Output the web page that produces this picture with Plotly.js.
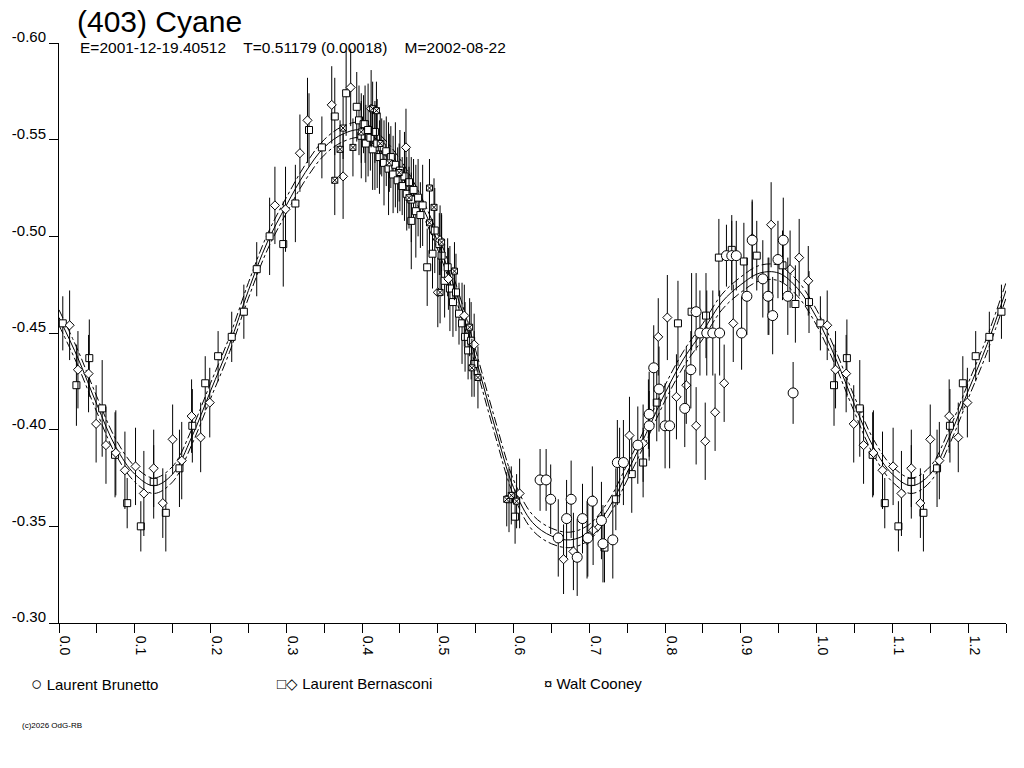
<!DOCTYPE html>
<html>
<head>
<meta charset="utf-8">
<script src="https://cdn.plot.ly/plotly-3.0.1.min.js"></script>
<style>
  html, body { margin: 0; padding: 0; background: #fff; }
  #chart { width: 1024px; height: 768px; }
</style>
</head>
<body>
<div id="chart"></div>
<script>
// phase / reduced magnitude (phase 0..1, repeated up to 1.25)
const sqPhase = [0.005,0.023,0.040,0.057,0.074,0.090,0.108,0.125,0.141,0.159,0.176,0.193,0.210,0.228,0.244,
  0.261,0.278,0.296,0.312,0.330,0.347,0.364,0.379,0.393,0.404,0.417,
  0.396,0.399,0.402,0.405,0.408,0.411,0.414,0.417,0.420,0.423,0.426,0.429,0.432,0.435,0.438,0.441,0.444,0.447,0.450,
  0.453,0.456,0.459,0.462,0.465,0.468,0.471,0.474,0.477,0.480,0.486,0.493,0.496,0.502,0.505,0.509,0.513,0.516,0.520,
  0.524,0.528,0.532,0.536,0.540,0.544,0.548,
  0.465,0.594,0.602,0.720,0.735,0.740,0.756,0.771,0.789,0.817,0.835,0.854,0.871,0.888,0.904,0.921,0.937,0.955,0.972,0.990];
const sqMag = [-0.455,-0.423,-0.437,-0.411,-0.387,-0.362,-0.350,-0.373,-0.357,-0.380,-0.402,-0.424,-0.438,-0.448,-0.461,
  -0.483,-0.500,-0.496,-0.517,-0.555,-0.546,-0.562,-0.574,-0.567,-0.558,-0.546,
  -0.560,-0.552,-0.558,-0.548,-0.555,-0.551,-0.545,-0.554,-0.548,-0.541,-0.546,-0.538,-0.544,-0.535,-0.541,-0.532,-0.537,-0.529,-0.534,
  -0.526,-0.531,-0.522,-0.528,-0.519,-0.524,-0.513,-0.520,-0.511,-0.516,-0.484,-0.491,-0.503,-0.496,-0.490,-0.477,-0.484,-0.473,-0.466,
  -0.471,-0.460,-0.455,-0.448,-0.441,-0.446,-0.434,
  -0.508,-0.364,-0.355,-0.339,-0.364,-0.383,-0.377,-0.383,-0.414,-0.455,-0.461,-0.459,-0.489,-0.493,-0.487,-0.490,-0.469,-0.485,-0.465,-0.466];
const sqErr = [0.014,0.021,0.020,0.025,0.022,0.013,0.013,0.019,0.020,0.020,0.019,0.014,0.013,0.013,0.014,
  0.014,0.020,0.022,0.020,0.019,0.016,0.020,0.022,0.018,0.020,0.022,
  0.018,0.022,0.015,0.020,0.024,0.017,0.021,0.016,0.023,0.019,0.015,0.022,0.018,0.024,0.016,0.020,0.022,0.017,0.021,
  0.015,0.023,0.019,0.018,0.022,0.016,0.024,0.020,0.017,0.021,0.020,0.018,0.022,0.016,0.021,0.019,0.015,0.022,0.018,
  0.020,0.016,0.021,0.018,0.015,0.020,0.017,
  0.025,0.017,0.014,0.018,0.016,0.018,0.020,0.018,0.020,0.022,0.020,0.022,0.020,0.018,0.020,0.018,0.020,0.018,0.020,0.016];

const dmPhase = [0.014,0.025,0.039,0.049,0.062,0.075,0.087,0.101,0.112,0.125,0.137,0.150,0.162,0.175,0.187,0.199,
  0.285,0.299,0.318,0.328,0.360,0.375,0.385,0.412,0.458,
  0.500,0.503,0.514,0.535,0.548,0.608,
  0.666,0.679,0.697,0.705,0.753,0.771,0.778,0.791,0.803,0.815,0.828,0.841,0.853,0.866,0.878,0.890,0.915,0.940,0.965,0.977,0.989];
const dmMag = [-0.454,-0.431,-0.429,-0.403,-0.392,-0.388,-0.379,-0.381,-0.367,-0.380,-0.362,-0.395,-0.384,-0.407,-0.396,-0.414,
  -0.516,-0.514,-0.543,-0.560,-0.568,-0.531,-0.577,-0.566,-0.546,
  -0.471,-0.498,-0.478,-0.459,-0.444,-0.367,
  -0.333,-0.337,-0.343,-0.348,-0.397,-0.393,-0.408,-0.448,-0.458,-0.417,-0.423,-0.402,-0.394,-0.409,-0.424,-0.455,-0.499,-0.506,-0.483,-0.489,-0.477];
const dmErr = [0.018,0.020,0.020,0.020,0.020,0.022,0.020,0.020,0.022,0.020,0.018,0.018,0.020,0.019,0.018,0.018,
  0.020,0.022,0.020,0.022,0.020,0.022,0.020,0.020,0.020,
  0.018,0.018,0.016,0.016,0.016,0.018,
  0.018,0.020,0.020,0.018,0.020,0.020,0.018,0.020,0.022,0.022,0.020,0.020,0.020,0.020,0.020,0.020,0.020,0.022,0.020,0.020,0.018];

const ciPhase = [0.635,0.643,0.649,0.659,0.670,0.676,0.684,0.691,0.698,0.704,0.716,0.718,0.731,0.737,0.745,0.764,0.779,0.779,0.785,0.792,
  0.800,0.806,0.826,0.834,0.841,0.846,0.855,0.863,0.872,0.881,0.888,0.894,0.901,0.908,0.915,0.929,0.936,0.942,0.949,0.956,0.962,0.969];
const ciMag = [-0.374,-0.374,-0.364,-0.344,-0.354,-0.364,-0.334,-0.354,-0.344,-0.363,-0.353,-0.341,-0.343,-0.383,-0.383,-0.392,-0.408,-0.402,-0.432,-0.421,
  -0.402,-0.402,-0.411,-0.431,-0.461,-0.450,-0.450,-0.450,-0.450,-0.490,-0.490,-0.490,-0.450,-0.469,-0.498,-0.478,-0.469,-0.459,-0.488,-0.498,-0.469,-0.419];
const ciErr = [0.016,0.016,0.018,0.020,0.020,0.020,0.020,0.018,0.020,0.018,0.020,0.020,0.020,0.022,0.022,0.020,0.022,0.018,0.022,0.022,
  0.022,0.022,0.020,0.020,0.020,0.022,0.022,0.022,0.022,0.016,0.018,0.018,0.019,0.020,0.020,0.020,0.020,0.020,0.020,0.022,0.020,0.016];

const coPhase = [0.364,0.371,0.375,0.388,0.399,0.414,0.419,0.424,0.436,0.449,0.462,0.489,0.495,0.489,0.505,0.522,0.503,0.542,0.545,0.553,0.591,0.597,0.604];
const coMag = [-0.529,-0.545,-0.556,-0.546,-0.554,-0.566,-0.565,-0.548,-0.538,-0.533,-0.520,-0.525,-0.515,-0.507,-0.497,-0.482,-0.471,-0.453,-0.432,-0.427,-0.364,-0.366,-0.363];
const coErr = [0.018,0.015,0.016,0.015,0.016,0.014,0.015,0.016,0.015,0.015,0.016,0.015,0.015,0.016,0.015,0.015,0.016,0.015,0.015,0.016,0.014,0.015,0.014];

// Fourier fit (solid) and its two error envelopes (dash-dot), read every 0.025 in phase
const fitPhase = [0.000,0.025,0.050,0.075,0.100,0.125,0.150,0.175,0.200,0.225,0.250,0.275,0.300,0.325,0.350,0.375,0.400,
  0.425,0.450,0.475,0.500,0.525,0.550,0.575,0.600,0.625,0.650,0.675,0.700,0.725,0.750,0.775,0.800,0.825,
  0.850,0.875,0.900,0.925,0.950,0.975,1.000,1.025,1.050,1.075,1.100,1.125,1.150,1.175,1.200,1.225,1.250];
const fitMag = [-0.458,-0.437,-0.413,-0.391,-0.377,-0.371,-0.377,-0.396,-0.420,-0.444,-0.472,-0.497,-0.516,-0.533,-0.546,-0.553,-0.555,
  -0.548,-0.536,-0.519,-0.497,-0.470,-0.437,-0.402,-0.370,-0.352,-0.345,-0.343,-0.347,-0.359,-0.378,-0.398,-0.419,-0.437,
  -0.451,-0.466,-0.475,-0.481,-0.481,-0.473,-0.458,-0.437,-0.413,-0.391,-0.377,-0.371,-0.377,-0.396,-0.420,-0.444,-0.472];
const fitHigh = [-0.462,-0.441,-0.417,-0.395,-0.381,-0.375,-0.381,-0.400,-0.424,-0.448,-0.476,-0.501,-0.520,-0.537,-0.550,-0.557,-0.559,
  -0.552,-0.540,-0.523,-0.501,-0.474,-0.441,-0.406,-0.374,-0.356,-0.349,-0.347,-0.351,-0.363,-0.382,-0.402,-0.423,-0.441,
  -0.455,-0.470,-0.479,-0.485,-0.485,-0.477,-0.462,-0.441,-0.417,-0.395,-0.381,-0.375,-0.381,-0.400,-0.424,-0.448,-0.476];
const fitLow = [-0.454,-0.433,-0.409,-0.387,-0.373,-0.367,-0.373,-0.392,-0.416,-0.440,-0.468,-0.493,-0.512,-0.529,-0.542,-0.549,-0.551,
  -0.544,-0.532,-0.515,-0.493,-0.466,-0.433,-0.398,-0.366,-0.348,-0.341,-0.339,-0.343,-0.355,-0.374,-0.394,-0.415,-0.433,
  -0.447,-0.462,-0.471,-0.477,-0.477,-0.469,-0.454,-0.433,-0.409,-0.387,-0.373,-0.367,-0.373,-0.392,-0.416,-0.440,-0.468];

// magnitude axis labels with a plain hyphen as in the original
const magTicks = [-0.60, -0.55, -0.50, -0.45, -0.40, -0.35, -0.30];
const magTickText = ['-0.60', '-0.55', '-0.50', '-0.45', '-0.40', '-0.35', '-0.30'];

const PHASE_MAX = 1.25;
const FONT = 'Liberation Sans, Arial, sans-serif';

// repeat the start of the cycle past phase 1 like the original plot does
function wrap(phase, mag, err) {
  const x = phase.slice(), y = mag.slice(), e = err.slice();
  phase.forEach((p, i) => {
    if (p + 1 <= PHASE_MAX) { x.push(p + 1); y.push(mag[i]); e.push(err[i]); }
  });
  return {x: x, y: y, e: e};
}

function curve(y, dash) {
  return {
    x: fitPhase, y: y, type: 'scatter', mode: 'lines',
    line: {color: 'black', width: 1, dash: dash, shape: 'spline', smoothing: 1},
    hoverinfo: 'skip'
  };
}

function points(phase, mag, err, symbol, size) {
  const d = wrap(phase, mag, err);
  return {
    x: d.x, y: d.y, type: 'scatter', mode: 'markers', cliponaxis: false,
    marker: {symbol: symbol, size: size, color: 'white', line: {color: 'black', width: 1}},
    error_y: {type: 'data', array: d.e, visible: true, color: 'black', thickness: 1, width: 0}
  };
}

const data = [
  curve(fitHigh, 'dashdot'),
  curve(fitLow, 'dashdot'),
  curve(fitMag, 'solid'),
  points(sqPhase, sqMag, sqErr, 'square', 7),
  points(dmPhase, dmMag, dmErr, 'diamond', 7),
  points(ciPhase, ciMag, ciErr, 'circle', 10),
  points(coPhase, coMag, coErr, 'square-x', 6)
];

function note(text, px, py, size) {
  return {
    text: text, xref: 'paper', yref: 'paper',
    x: (px - 59) / 947, y: (623 - py) / 580,
    xanchor: 'left', yanchor: 'middle', showarrow: false,
    font: {family: FONT, size: size, color: 'black'}
  };
}

const layout = {
  width: 1024, height: 768,
  margin: {l: 59, r: 18, t: 43, b: 145},
  paper_bgcolor: 'white', plot_bgcolor: 'white',
  showlegend: false, hovermode: false,
  font: {family: FONT, color: 'black'},
  title: {
    text: '(403) Cyane', xref: 'container', yref: 'container',
    x: 77 / 1024, xanchor: 'left', y: 1 - 21 / 768, yanchor: 'middle',
    font: {family: FONT, size: 30, color: 'black'}
  },
  xaxis: {
    range: [0, PHASE_MAX], showgrid: false, zeroline: false,
    showline: true, linecolor: 'black', linewidth: 1,
    ticks: 'outside', ticklen: 9, tickcolor: 'black', tickwidth: 1,
    dtick: 0.1, tick0: 0, tickformat: '.1f', tickangle: 90,
    ticklabelshift: 6, ticklabelstandoff: 0,
    tickfont: {family: FONT, size: 14, color: 'black'},
    minor: {dtick: 0.05, tick0: 0, ticks: 'outside', ticklen: 9, tickcolor: 'black', tickwidth: 1, showgrid: false}
  },
  yaxis: {
    range: [-0.30, -0.60], showgrid: false, zeroline: false,
    showline: true, linecolor: 'black', linewidth: 1,
    ticks: 'outside', ticklen: 9, tickcolor: 'black', tickwidth: 1,
    tickmode: 'array', tickvals: magTicks, ticktext: magTickText,
    ticklabelshift: 6, ticklabelstandoff: 0,
    tickfont: {family: FONT, size: 15, color: 'black'}
  },
  annotations: [
    note('E=2001-12-19.40512&nbsp;&nbsp;&nbsp;&nbsp;T=0.51179 (0.00018)&nbsp;&nbsp;&nbsp;&nbsp;M=2002-08-22', 78, 48, 15.5),
    note('<span style="font-size:19px">\u25CB</span> Laurent Brunetto', 29, 683, 15),
    note('\u25A1\u25C7 Laurent Bernasconi', 275, 683, 15),
    note('\u00A4 Walt Cooney', 542, 683, 15),
    note('(c)2026 OdG-RB', 20, 725, 8)
  ]
};

Plotly.newPlot('chart', data, layout, {staticPlot: true, displayModeBar: false});
</script>
</body>
</html>
